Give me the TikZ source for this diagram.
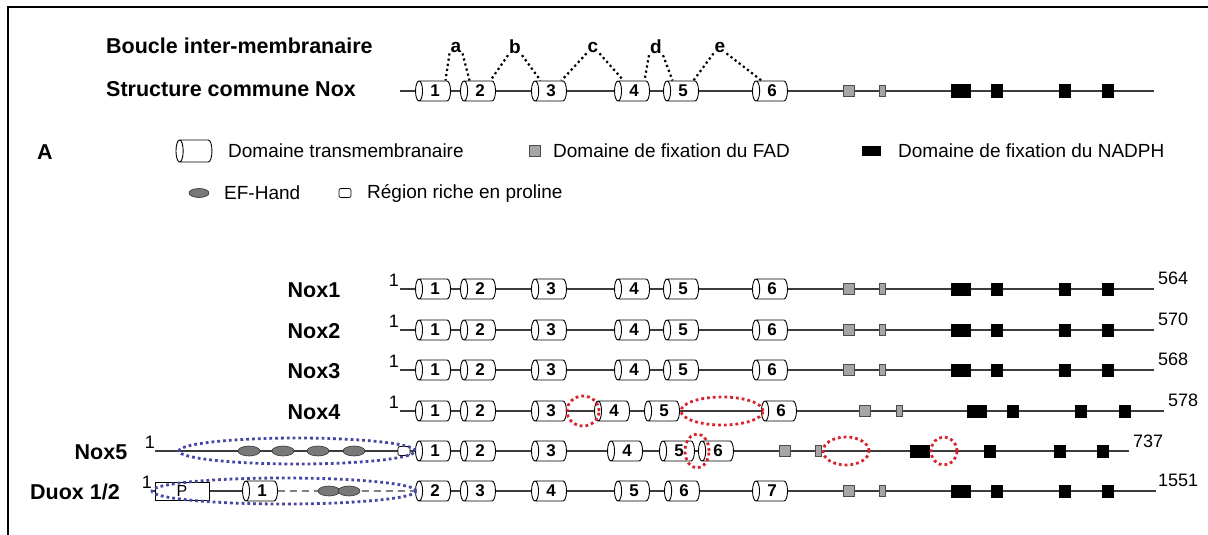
\documentclass[tikz,border=0pt]{standalone}
\usepackage{fontspec}
\setmainfont{Liberation Sans}
\usetikzlibrary{shapes.geometric}
\pgfdeclarelayer{background}
\pgfsetlayers{background,main}
\definecolor{lineg}{RGB}{60,60,60}
\definecolor{hlred}{RGB}{215,35,45}
\definecolor{hlblue}{RGB}{70,70,165}
\definecolor{fadg}{RGB}{165,165,165}
\definecolor{efg}{RGB}{120,120,120}
\begin{document}
\begin{tikzpicture}[x=1pt,y=-1pt,
  tm/.style={cylinder, shape border rotate=180, draw=black, fill=white, line width=0.9pt,
    minimum width=20pt, minimum height=35pt, aspect=0.6, inner sep=0pt,
    font=\fontsize{17}{17}\selectfont\bfseries},
  fadbox/.style={draw=black!70, fill=fadg, line width=0.6pt, minimum width=11pt, minimum height=11pt, inner sep=0pt},
  fadthin/.style={draw=black!70, fill=fadg, line width=0.6pt, minimum width=6pt, minimum height=11pt, inner sep=0pt},
  nadwide/.style={fill=black, minimum width=20pt, minimum height=13pt, inner sep=0pt},
  nadbox/.style={fill=black, minimum width=12pt, minimum height=13pt, inner sep=0pt},
  efh/.style={ellipse, draw=black!80, fill=efg, minimum width=22pt, minimum height=10pt, inner sep=0pt, line width=0.6pt},
  pro/.style={draw=black, fill=white, rounded corners=2pt, minimum width=12pt, minimum height=9pt, inner sep=0pt, line width=0.7pt},
  redring/.style={ellipse, draw=hlred, line width=2.8pt, dash pattern=on 2.8pt off 3pt, inner sep=0pt},
  bluering/.style={ellipse, draw=hlblue, line width=2.8pt, dash pattern=on 2.8pt off 3pt, inner sep=0pt},
  backbone/.style={draw=lineg, line width=1.1pt},
  lbl/.style={font=\fontsize{21.5}{21.5}\selectfont\bfseries, inner sep=0pt},
  leg/.style={font=\fontsize{19}{19}\selectfont, anchor=west, inner sep=0pt},
  num/.style={font=\fontsize{18}{18}\selectfont, inner sep=0pt},
  loopdot/.style={line width=2.2pt, dash pattern=on 2.2pt off 3pt},
  letter/.style={font=\fontsize{19}{19}\selectfont\bfseries, inner sep=1pt}
]
\useasboundingbox (0,0) rectangle (1208,535);
% frame
\coordinate (fbl) at (8,535);
\coordinate (ftl) at (8,7);
\coordinate (ftr) at (1208,7);
\draw[line width=2pt] (fbl) -- (ftl) -- (ftr);

% titles
\node[lbl, anchor=west] (boucle) at (106,46) {Boucle inter-membranaire};
\node[lbl, anchor=west] (structure) at (106,89) {Structure commune Nox};

% standard rows
\foreach \r/\y in {t/91, n1/289, n2/330, n3/370}{
  \coordinate (\r s) at (400,\y);
  \coordinate (\r e) at (1154,\y);
  \begin{pgfonlayer}{background}
    \draw[backbone] (\r s) -- (\r e);
  \end{pgfonlayer}
  \foreach \i/\x in {1/435,2/480,3/551,4/634,5/683,6/772}
    \node[tm] (\r c\i) at (\x,\y) {\i};
  \node[fadbox] (\r f1) at (849,\y) {};
  \node[fadthin] (\r f2) at (882,\y) {};
  \node[nadwide] (\r d1) at (961,\y) {};
  \node[nadbox] (\r d2) at (997,\y) {};
  \node[nadbox] (\r d3) at (1065,\y) {};
  \node[nadbox] (\r d4) at (1108,\y) {};
}

% loop letters
\foreach \l/\x in {a/456,b/515,c/593,d/656,e/720}
  \node[letter] (l\l) at (\x,47) {\l};
\draw[loopdot] (la.south west) -- (tc1.north east);
\draw[loopdot] (la.south east) -- (tc2.north west);
\draw[loopdot] (lb.south west) -- (tc2.north east);
\draw[loopdot] (lb.south east) -- (tc3.north west);
\draw[loopdot] (lc.south west) -- (tc3.north east);
\draw[loopdot] (lc.south east) -- (tc4.north west);
\draw[loopdot] (ld.south west) -- (tc4.north east);
\draw[loopdot] (ld.south east) -- (tc5.north west);
\draw[loopdot] (le.south west) -- (tc5.north east);
\draw[loopdot] (le.south east) -- (tc6.north west);

% legend
\node[lbl] (A) at (45,152) {A};
\node[tm, minimum width=22pt, minimum height=36pt] (legcyl) at (196,151) {\phantom{0}};
\node[leg] (legcylt) at (228,151) {Domaine transmembranaire};
\node[fadbox] (legfad) at (535,151) {};
\node[leg] (legfadt) at (553,151) {Domaine de fixation du FAD};
\node[nadwide, minimum width=19pt, minimum height=10pt] (legnad) at (871,151) {};
\node[leg] (legnadt) at (898,151) {Domaine de fixation du NADPH};
\node[efh, minimum width=20pt, minimum height=9pt] (legef) at (199,193) {};
\node[leg] (legeft) at (224,193) {EF-Hand};
\node[pro] (legpro) at (345,193) {};
\node[leg] (legprot) at (367,193) {Région riche en proline};

% labels Nox1-3
\node[lbl] (lab1) at (314,290) {Nox1};
\node[lbl] (lab2) at (314,331) {Nox2};
\node[lbl] (lab3) at (314,371) {Nox3};
\node[num] (s1) at (394,280) {1};
\node[num] (s2) at (394,321) {1};
\node[num] (s3) at (394,361) {1};
\node[num, anchor=west] (e1) at (1158,278) {564};
\node[num, anchor=west] (e2) at (1158,319) {570};
\node[num, anchor=west] (e3) at (1158,359) {568};

% Nox4
\node[lbl] (lab4) at (314,412) {Nox4};
\node[num] (s4) at (394,402) {1};
\coordinate (n4s) at (400,411);
\coordinate (n4e) at (1164,411);
\begin{pgfonlayer}{background}
  \draw[backbone] (n4s) -- (n4e);
\end{pgfonlayer}
\foreach \i/\x in {1/435,2/480,3/551,4/614,5/664,6/781}
  \node[tm] (n4c\i) at (\x,411) {\i};
\node[fadbox] (n4f1) at (865,411) {};
\node[fadthin] (n4f2) at (899,411) {};
\node[nadwide] (n4d1) at (977,411) {};
\node[nadbox] (n4d2) at (1013,411) {};
\node[nadbox] (n4d3) at (1081,411) {};
\node[nadbox] (n4d4) at (1125,411) {};
\node[redring, minimum width=32pt, minimum height=30pt] (n4r1) at (583,411) {};
\node[redring, minimum width=82pt, minimum height=28pt] (n4r2) at (722,411) {};
\node[num, anchor=west] (e4) at (1168,400) {578};

% Nox5
\node[lbl] (lab5) at (101,452) {Nox5};
\node[num] (s5) at (150,442) {1};
\coordinate (n5s) at (155,451);
\coordinate (n5e) at (1129,451);
\begin{pgfonlayer}{background}
  \draw[backbone] (n5s) -- (n5e);
\end{pgfonlayer}
\foreach \i/\x in {249,283,318,354}
  \node[efh] (n5ef\i) at (\x,451) {};
\node[pro] (n5p) at (404,451) {};
\foreach \i/\x in {1/435,2/480,3/551,4/627,5/679,6/718}
  \node[tm] (n5c\i) at (\x,451) {\i};
\node[fadbox] (n5f1) at (785,451) {};
\node[fadthin] (n5f2) at (818,451) {};
\node[nadwide] (n5d1) at (920,451) {};
\node[nadbox] (n5d2) at (990,451) {};
\node[nadbox] (n5d3) at (1060,451) {};
\node[nadbox] (n5d4) at (1103,451) {};
\node[bluering, minimum width=236pt, minimum height=26pt] (n5b) at (297,451) {};
\node[redring, minimum width=24pt, minimum height=34pt] (n5r1) at (697,451) {};
\node[redring, minimum width=46pt, minimum height=28pt] (n5r2) at (846,451) {};
\node[redring, minimum width=26pt, minimum height=28pt] (n5r3) at (944,451) {};
\node[num, anchor=west] (e5) at (1133,441) {737};

% Duox
\node[lbl] (lab6) at (75,492) {Duox 1/2};
\node[num] (s6) at (147,482) {1};
\coordinate (dxs) at (153,491);
\coordinate (dxe) at (1156,491);
\node[draw=black, fill=white, line width=0.8pt, minimum width=54pt, minimum height=18pt, inner sep=0pt,
  font=\fontsize{16}{16}\selectfont] (dxp) at (182,491) {P};
\foreach \i/\x in {1/262,2/435,3/480,4/551,5/634,6/684,7/772}
  \node[tm] (dxc\i) at (\x,491) {\i};
\begin{pgfonlayer}{background}
  \draw[backbone] (dxs) -- (dxc1.center);
  \draw[backbone, dash pattern=on 7pt off 5pt] (dxc1) -- (dxc2);
  \draw[backbone] (dxc2.center) -- (dxe);
\end{pgfonlayer}
\node[efh] (dxef1) at (329,491) {};
\node[efh] (dxef2) at (349,491) {};
\node[fadbox] (dxf1) at (849,491) {};
\node[fadthin] (dxf2) at (882,491) {};
\node[nadwide] (dxd1) at (961,491) {};
\node[nadbox] (dxd2) at (997,491) {};
\node[nadbox] (dxd3) at (1065,491) {};
\node[nadbox] (dxd4) at (1108,491) {};
\node[bluering, minimum width=264pt, minimum height=26pt] (dxb) at (284,491) {};
\node[num, anchor=west] (e6) at (1158,480) {1551};
\end{tikzpicture}
\end{document}
